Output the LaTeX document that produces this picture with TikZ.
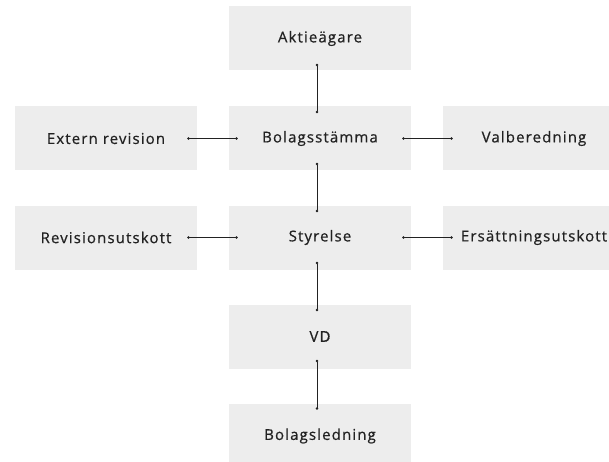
\documentclass[tikz,border=0pt]{standalone}
\usepackage{fontspec}
\setmainfont{Open Sans}[LetterSpace=7.5,FakeBold=0.6]
\usetikzlibrary{arrows.meta}
\definecolor{boxfill}{HTML}{EDEDED}
\definecolor{ink}{HTML}{222222}
\tikzset{
  orgbox/.style={fill=boxfill, draw=none, minimum width=182pt, minimum height=64pt, inner sep=0pt, text=ink, font=\fontsize{15}{18}\selectfont},
  link/.style={draw=ink, line width=0.8pt, {Circle[length=2.4pt]}-{Circle[length=2.4pt]}}
}
\begin{document}
\begin{tikzpicture}[x=1pt,y=-1pt]
\clip (0,0) rectangle (609,462);
\useasboundingbox (0,0) rectangle (609,462);
\node[orgbox] (akt) at (320,38.5) {Aktieägare};
\node[orgbox] (bol) at (320,138.5) {Bolagsstämma};
\node[orgbox] (ext) at (106,138.5) {Extern revision};
\node[orgbox] (val) at (534,138.5) {Valberedning};
\node[orgbox] (sty) at (320,237.5) {Styrelse};
\node[orgbox] (rev) at (106,237.5) {Revisionsutskott};
\node[orgbox] (ers) at (534,237.5) {Ersättningsutskott};
\node[orgbox] (vd) at (320,336.5) {VD};
\node[orgbox] (led) at (320,436) {Bolagsledning};
\draw[link] ([xshift=-3,yshift=7]akt.south) -- ([xshift=-3,yshift=-7]bol.north);
\draw[link] ([xshift=-3,yshift=8]bol.south) -- ([xshift=-3,yshift=-7]sty.north);
\draw[link] ([xshift=-3,yshift=8]sty.south) -- ([xshift=-3,yshift=-7]vd.north);
\draw[link] ([xshift=-3,yshift=9]vd.south) -- ([xshift=-3,yshift=-6]led.north);
\draw[link] ([xshift=-10]ext.east) -- ([xshift=9]bol.west);
\draw[link] ([xshift=-9]bol.east) -- ([xshift=10]val.west);
\draw[link] ([xshift=-10]rev.east) -- ([xshift=9]sty.west);
\draw[link] ([xshift=-9]sty.east) -- ([xshift=10]ers.west);
\end{tikzpicture}
\end{document}
